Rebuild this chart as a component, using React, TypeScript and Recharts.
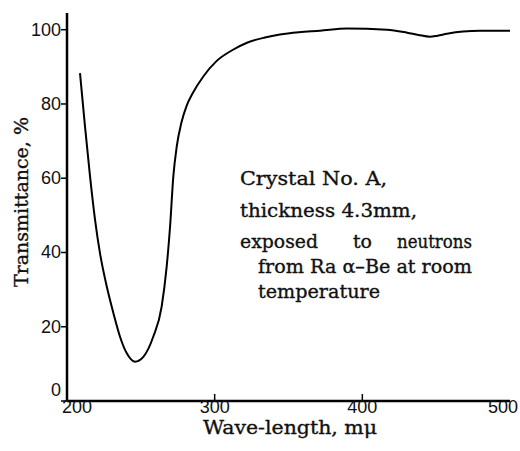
import { LineChart, Line, XAxis, YAxis } from 'recharts'

// wave-length (mμ) and transmittance (%)
const waveLength = [
  208.8, 212.2, 215.6, 219, 222.3, 226.9, 231.4, 235.9, 240.4, 246,
  251.7, 258.4, 264.1, 267.5, 269.8, 272, 274.3, 277.5, 281, 285,
  292.3, 301.4, 312.4, 321.9, 334, 344.2, 357, 371.3, 389.6, 416.7,
  430.3, 438, 445.8, 451, 457.3, 468.2, 479.7, 500,
]
const transmittance = [
  88.3, 73.9, 60.5, 48.8, 39.9, 30.9, 23.7, 17.3, 12.9, 10.6,
  11.9, 17.3, 25.4, 36.2, 47, 60.5, 68.5, 75, 79.5, 82.8,
  87.4, 91.6, 94.6, 96.5, 97.9, 98.7, 99.3, 99.7, 100.3, 100,
  99.2, 98.6, 98.1, 98.4, 98.9, 99.5, 99.7, 99.7,
]

const xTicks = [200, 300, 400, 500]
const yTicks = [0, 20, 40, 60, 80, 100]

const data = waveLength.map((w, i) => ({
  w,
  t: transmittance[i],
}))

const serif = "'DejaVu Serif', 'Liberation Serif', serif"
const sans = 'Liberation Sans'

function XTick(props: any) {
  const { x, y, payload } = props
  const v = payload.value
  const shift = v === 200 ? 10 : v === 500 ? -5 : 0
  return (
    <g>
      {v > 200 && v < 500 && (
        <line x1={x} x2={x} y1={y} y2={y - 7} stroke="#000" strokeWidth={1.5} />
      )}
      <text
        x={x + shift}
        y={y + 12}
        textAnchor="middle"
        fontSize={18}
        fontFamily={sans}
        fill="#111"
      >
        {v}
      </text>
    </g>
  )
}

function YTick(props: any) {
  const { x, y, payload } = props
  const v = payload.value
  return (
    <text
      x={x}
      y={(v === 0 ? y - 11 : y) + 6}
      textAnchor="end"
      fontSize={18}
      fontFamily={sans}
      fill="#111"
    >
      {v}
    </text>
  )
}

export default function App() {
  return (
    <div
      style={{
        position: 'absolute',
        left: 0,
        top: 0,
        width: 520,
        height: 451,
        background: '#fff',
      }}
    >
      <LineChart
        width={520}
        height={451}
        data={data}
        margin={{ top: 13, right: 10, bottom: 0, left: 0 }}
      >
        <XAxis
          dataKey="w"
          type="number"
          domain={[200, 500]}
          ticks={xTicks}
          height={50}
          tickSize={0}
          tickMargin={0}
          tickLine={false}
          axisLine={{ stroke: '#000', strokeWidth: 2.5 }}
          tick={<XTick />}
        />
        <XAxis
          xAxisId="top"
          orientation="top"
          dataKey="w"
          type="number"
          domain={[200, 500]}
          height={0}
          tick={false}
          tickLine={false}
          axisLine={{ stroke: '#000', strokeWidth: 2 }}
        />
        <YAxis
          type="number"
          domain={[0, 104.5]}
          ticks={yTicks}
          width={67}
          tickSize={6}
          tickMargin={0}
          tickLine={{ stroke: '#000', strokeWidth: 1.5 }}
          axisLine={{ stroke: '#000', strokeWidth: 2.5 }}
          tick={<YTick />}
        />
        <YAxis
          yAxisId="right"
          orientation="right"
          type="number"
          domain={[0, 104.5]}
          width={0}
          tick={false}
          tickLine={false}
          axisLine={{ stroke: '#000', strokeWidth: 2 }}
        />

        <Line
          type="monotone"
          dataKey="t"
          stroke="#000"
          strokeWidth={2}
          dot={false}
          isAnimationActive={false}
        />

        <g
          fontFamily={serif}
          fontSize={19}
          fill="#111"
          stroke="#111"
          strokeWidth={0.35}
        >
          <text x={240} y={185} textLength={147} lengthAdjust="spacingAndGlyphs">
            Crystal No. A,
          </text>
          <text x={240} y={217} textLength={177} lengthAdjust="spacingAndGlyphs">
            thickness 4.3mm,
          </text>
          <text x={240} y={248} textLength={78} lengthAdjust="spacingAndGlyphs">
            exposed
          </text>
          <text x={353} y={248} textLength={19} lengthAdjust="spacingAndGlyphs">
            to
          </text>
          <text x={397} y={248} textLength={75} lengthAdjust="spacingAndGlyphs">
            neutrons
          </text>
          <text x={258} y={273} textLength={214} lengthAdjust="spacingAndGlyphs">
            from Ra α–Be at room
          </text>
          <text x={258} y={298} textLength={122} lengthAdjust="spacingAndGlyphs">
            temperature
          </text>

          <text
            x={203}
            y={434}
            textLength={174}
            lengthAdjust="spacingAndGlyphs"
          >
            Wave-length, mμ
          </text>
          <text
            x={28}
            y={287}
            transform="rotate(-90, 28, 287)"
            textLength={170}
            lengthAdjust="spacingAndGlyphs"
          >
            Transmittance, %
          </text>
        </g>
      </LineChart>
    </div>
  )
}
